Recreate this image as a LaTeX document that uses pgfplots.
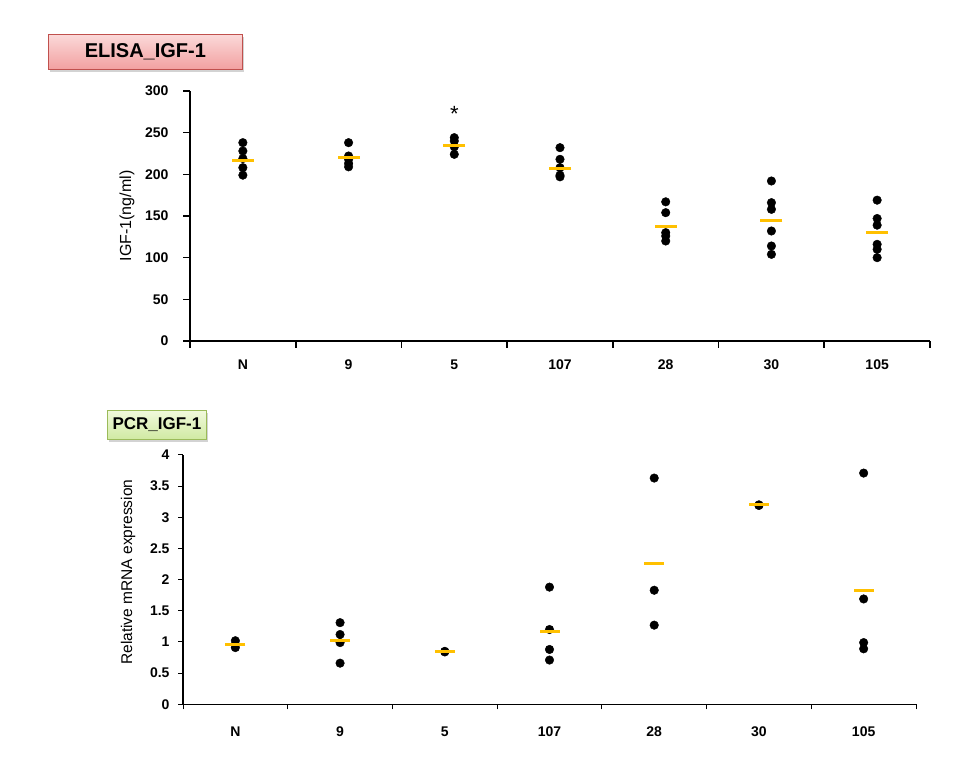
\documentclass[border=0pt]{standalone}
\usepackage{pgfplots}
\pgfplotsset{compat=1.18}
\usepackage{fontspec}
\setmainfont{Liberation Sans}
\usetikzlibrary{shadows}
\definecolor{meanc}{HTML}{FFC000}
\definecolor{pinktop}{HTML}{FBD9D9}
\definecolor{pinkbot}{HTML}{F2A0A0}
\definecolor{pinkdraw}{HTML}{C0504D}
\definecolor{greentop}{HTML}{F1F9DC}
\definecolor{greenbot}{HTML}{D0EAA2}
\definecolor{greendraw}{HTML}{9BBB59}

\pgfplotstableread{
x y
0.5 238
0.5 228
0.5 219
0.5 208
0.5 199
1.5 238
1.5 222
1.5 218
1.5 213
1.5 209
2.5 244
2.5 240
2.5 233
2.5 224
3.5 232
3.5 218
3.5 208
3.5 199
3.5 197
4.5 167
4.5 154
4.5 130
4.5 126
4.5 120
5.5 192
5.5 166
5.5 158
5.5 132
5.5 114
5.5 104
6.5 169
6.5 147
6.5 139
6.5 116
6.5 110
6.5 100
}\elisadots

\pgfplotstableread{
x y
0.5 217
1.5 220
2.5 235
3.5 207
4.5 137
5.5 144
6.5 130
}\elisamean

\pgfplotstableread{
x y
0.5 1.02
0.5 0.96
0.5 0.91
1.5 1.31
1.5 1.12
1.5 0.99
1.5 0.66
2.5 0.85
2.5 0.84
3.5 1.88
3.5 1.20
3.5 0.88
3.5 0.71
4.5 3.63
4.5 1.83
4.5 1.27
5.5 3.20
5.5 3.19
6.5 3.71
6.5 1.69
6.5 0.99
6.5 0.89
}\pcrdots

\pgfplotstableread{
x y
0.5 0.96
1.5 1.03
2.5 0.84
3.5 1.17
4.5 2.26
5.5 3.20
6.5 1.82
}\pcrmean

\pgfplotsset{
  dotplot/.style={
    scale only axis, clip=false,
    xmin=0, xmax=7,
    axis x line*=bottom, axis y line*=left,
    xtick={0,1,...,7}, xticklabels={},
    extra x ticks={0.5,1.5,...,6.5},
    extra x tick labels={N,9,5,107,28,30,105},
    tick align=outside,
    tick style={black},
    /pgf/number format/assume math mode=true,
    ticklabel style={font=\fontsize{14}{14}\selectfont\bfseries},
  }
}

\begin{document}
\begin{tikzpicture}[x=1pt,y=1pt]
\path[use as bounding box] (0,0) rectangle (957,765);

% title boxes
\node[draw=pinkdraw, line width=0.8pt, top color=pinktop, bottom color=pinkbot,
      minimum width=194pt, minimum height=35pt, anchor=north west, inner sep=0pt,
      drop shadow={opacity=0.35, shadow xshift=1.5pt, shadow yshift=-2.5pt},
      font=\fontsize{20}{20}\selectfont\bfseries]
  at (48,731) {ELISA\_IGF-1};
\node[draw=greendraw, line width=0.8pt, top color=greentop, bottom color=greenbot,
      minimum width=99pt, minimum height=29pt, anchor=north west, inner sep=0pt,
      drop shadow={opacity=0.35, shadow xshift=1.5pt, shadow yshift=-2.5pt},
      font=\fontsize{17}{17}\selectfont\bfseries]
  at (107,355) {PCR\_IGF-1};

% top axis
\begin{axis}[dotplot,
  at={(190pt,424pt)}, anchor=south west,
  width=740pt, height=250pt,
  ymin=0, ymax=300, ytick={0,50,...,300},
  axis line style={line width=2pt},
  major tick length=7pt,
  tick style={line width=1.6pt},
  extra x tick style={major tick length=0pt, xticklabel style={yshift=-15pt}},
  yticklabel style={xshift=-11pt},
  ylabel={IGF-1(ng/ml)},
  ylabel style={at={(axis description cs:-0.085,0.5)}, rotate=0, anchor=center, font=\fontsize{16}{16}\selectfont},
]
\addplot[only marks, mark=*, mark size=4.3pt, black] table[x=x,y=y] {\elisadots};
\addplot[only marks, mark=-, mark size=11pt, mark options={line width=3pt, draw=meanc}] table[x=x,y=y] {\elisamean};
\node[font=\fontsize{22}{22}\selectfont] at (axis cs:2.5,273) {*};
\end{axis}

% bottom axis
\begin{axis}[dotplot,
  at={(183pt,60.7pt)}, anchor=south west,
  width=733pt, height=249.3pt,
  ymin=0, ymax=4, ytick={0,0.5,...,4},
  axis line style={line width=1.3pt},
  major tick length=5pt,
  tick style={line width=1pt},
  extra x tick style={major tick length=0pt, xticklabel style={yshift=-19pt}},
  yticklabel style={xshift=-5pt},
  ylabel={Relative mRNA expression},
  ylabel style={at={(axis description cs:-0.075,0.53)}, rotate=0, anchor=center, font=\fontsize{15.5}{15.5}\selectfont},
]
\addplot[only marks, mark=*, mark size=4.3pt, black] table[x=x,y=y] {\pcrdots};
\addplot[only marks, mark=-, mark size=10pt, mark options={line width=3pt, draw=meanc}] table[x=x,y=y] {\pcrmean};
\end{axis}
\end{tikzpicture}
\end{document}
